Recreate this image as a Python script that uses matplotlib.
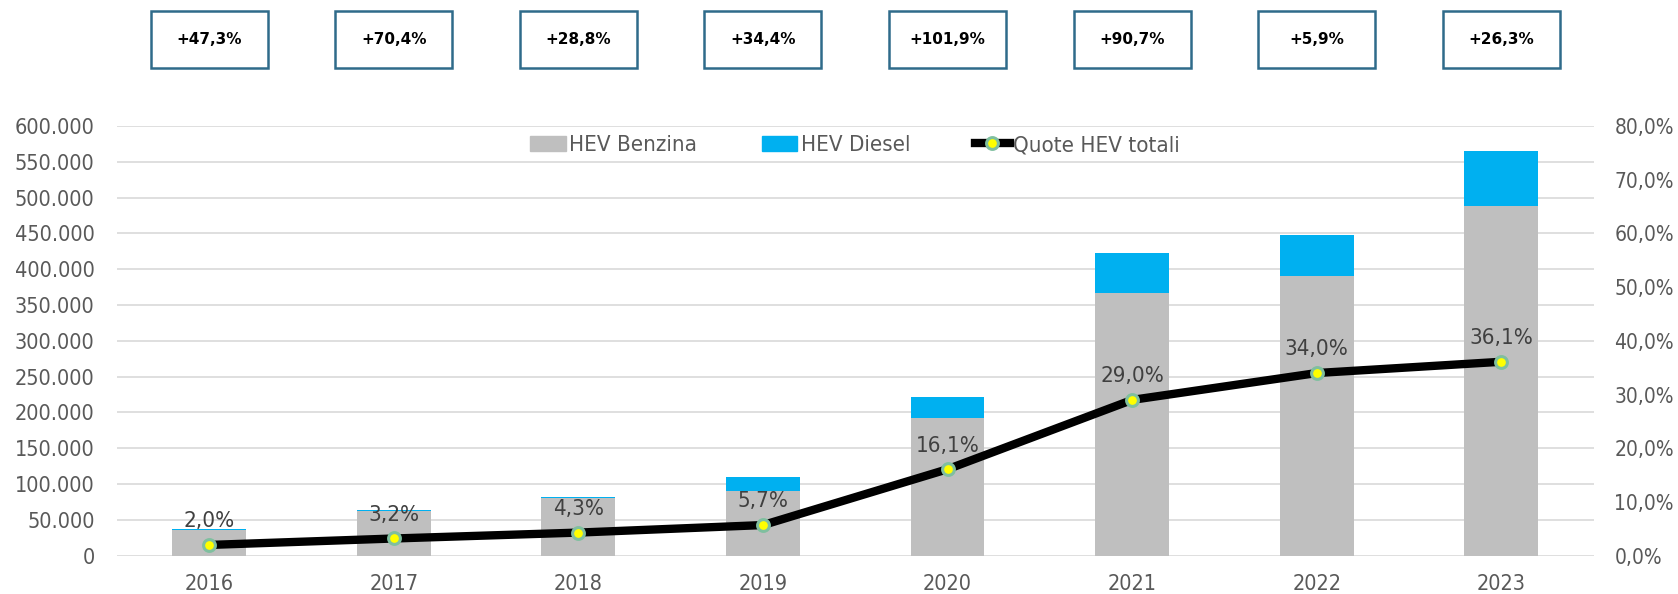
import matplotlib
matplotlib.use("Agg")
import matplotlib.pyplot as plt
import matplotlib.patches as mpatches
import matplotlib.transforms as mtransforms
from matplotlib.lines import Line2D
from matplotlib.ticker import FuncFormatter, MultipleLocator

# data
years = ["2016", "2017", "2018", "2019", "2020", "2021", "2022", "2023"]
hev_benzina = [36500, 62600, 80300, 90600, 191700, 366300, 390300, 488000]
hev_diesel = [700, 800, 1300, 19100, 29800, 56100, 57100, 77000]
quote_hev = [2.0, 3.2, 4.3, 5.7, 16.1, 29.0, 34.0, 36.1]
growth = ["+47,3%", "+70,4%", "+28,8%", "+34,4%", "+101,9%", "+90,7%", "+5,9%", "+26,3%"]

plt.rcParams['font.family'] = ['DejaVu Sans']
plt.rcParams['font.stretch'] = 'condensed'
txt_col = '#595959'

fig = plt.figure(figsize=(16.78, 5.94), dpi=100)
ax = fig.add_axes([0.0697, 0.0645, 0.880, 0.7235])
ax2 = ax.twinx()

x = range(len(years))
ax.bar(x, hev_benzina, width=0.4, color='#BFBFBF', zorder=2)
ax.bar(x, hev_diesel, width=0.4, bottom=hev_benzina, color='#00B0F0', zorder=2)

ax.set_xlim(-0.5, len(years) - 0.5)
ax.set_ylim(0, 600000)
ax.yaxis.set_major_locator(MultipleLocator(50000))
ax.yaxis.set_major_formatter(FuncFormatter(lambda v, p: f"{int(v):,}".replace(",", ".")))
ax.grid(axis='y', color='#D9D9D9', lw=1.2, zorder=0)
ax.set_axisbelow(True)
ax.set_xticks(list(x))
ax.set_xticklabels(years)
ax.tick_params(axis='both', length=0, labelsize=15.5, colors=txt_col, pad=16)
ax.tick_params(axis='x', pad=13)

ax2.plot(x, quote_hev, color='black', lw=6, zorder=3,
         marker='o', markersize=8.5, markerfacecolor='#FFFF00',
         markeredgecolor='#7FBF9F', markeredgewidth=2.2)
ax2.set_ylim(0, 80)
ax2.yaxis.set_major_locator(MultipleLocator(10))
ax2.yaxis.set_major_formatter(FuncFormatter(lambda v, p: f"{v:.1f}%".replace(".", ",")))
ax2.tick_params(axis='y', length=0, labelsize=15, colors=txt_col, pad=15)

for i, q in enumerate(quote_hev):
    ax2.annotate(f"{q:.1f}%".replace(".", ","), (i, q), xytext=(0, 17),
                 textcoords='offset points', ha='center', va='center',
                 fontsize=16, color='#404040')

for a in (ax, ax2):
    for s in a.spines.values():
        s.set_visible(False)

# growth boxes above each year
trans = mtransforms.blended_transform_factory(ax.transData, fig.transFigure)
for i, g in enumerate(growth):
    box = mpatches.Rectangle((i - 0.317, 0.885), 0.634, 0.096, transform=trans,
                             facecolor='white', edgecolor='#2F6B8A', lw=1.8,
                             clip_on=False)
    fig.add_artist(box)
    fig.text(i, 0.933, g, transform=trans, ha='center', va='center',
             fontsize=11, fontweight='bold', fontstretch='normal', color='black')

handles = [mpatches.Patch(color='#BFBFBF', label='HEV Benzina'),
           mpatches.Patch(color='#00B0F0', label='HEV Diesel'),
           Line2D([0], [0], color='black', lw=6, marker='o', markersize=8.5,
                  markerfacecolor='#FFFF00', markeredgecolor='#7FBF9F',
                  markeredgewidth=2.2, label='Quote HEV totali')]
leg = ax2.legend(handles=handles, loc='center', bbox_to_anchor=(0.5, 0.955),
                 ncol=3, frameon=False, fontsize=16, handlelength=1.6,
                 handletextpad=0.15, columnspacing=2.9, labelcolor=txt_col)

fig.savefig("out.png", dpi=100, facecolor='white')
